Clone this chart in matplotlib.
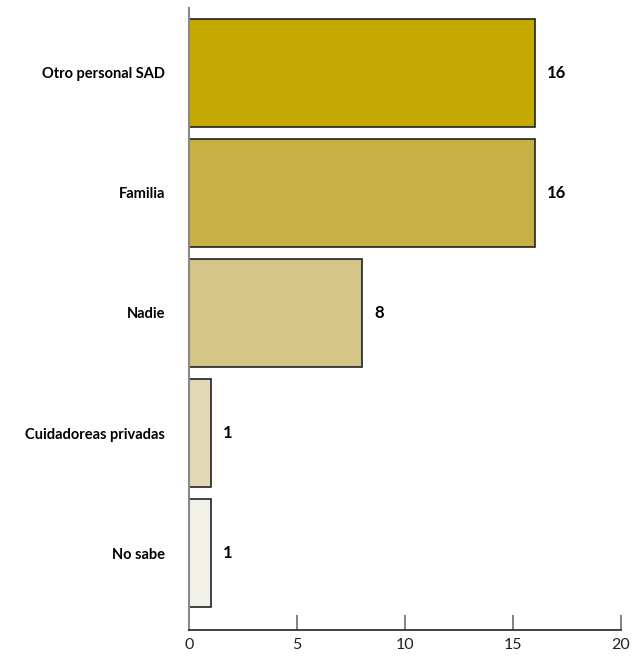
import matplotlib.pyplot as plt

categories = ["Otro personal SAD", "Familia", "Nadie", "Cuidadoreas privadas", "No sabe"]
values = [16, 16, 8, 1, 1]
bar_colors = ["#C5A900", "#C8B045", "#D5C488", "#E2D8B5", "#F2F1E8"]
x_ticks = [0, 5, 10, 15, 20]

plt.rcParams['font.family'] = ['Lato', 'DejaVu Sans']

fig = plt.figure(figsize=(6.35, 6.58), dpi=100)
ax = fig.add_axes([0.2976, 0.0426, 0.6803, 0.9453])

pos = list(range(len(categories)))
bars = ax.barh(pos, values, height=0.9, color=bar_colors, edgecolor="#222222", linewidth=1.2)

# value labels just right of each bar
for y, v in zip(pos, values):
    ax.annotate(str(v), xy=(v, y), xytext=(9, 0), textcoords="offset points",
                va="center", ha="left", fontsize=12, fontweight="bold")

ax.set_xlim(0, 20)
ax.set_ylim(4.64, -0.54)
ax.set_xticks(x_ticks)
ax.set_xticklabels([str(t) for t in x_ticks], fontsize=11.5, color="#222222")
ax.set_yticks(pos)
ax.set_yticklabels(categories, fontsize=10.5, fontweight="bold")
ax.tick_params(axis="y", length=0, pad=17)
ax.tick_params(axis="x", direction="in", length=11, width=1.3, color="#777777", pad=6)

for side in ["top", "right"]:
    ax.spines[side].set_visible(False)
ax.spines["left"].set_color("#888888")
ax.spines["left"].set_linewidth(1.5)
ax.spines["bottom"].set_color("#222222")
ax.spines["bottom"].set_linewidth(1.2)

fig.savefig("out.png", dpi=100)
